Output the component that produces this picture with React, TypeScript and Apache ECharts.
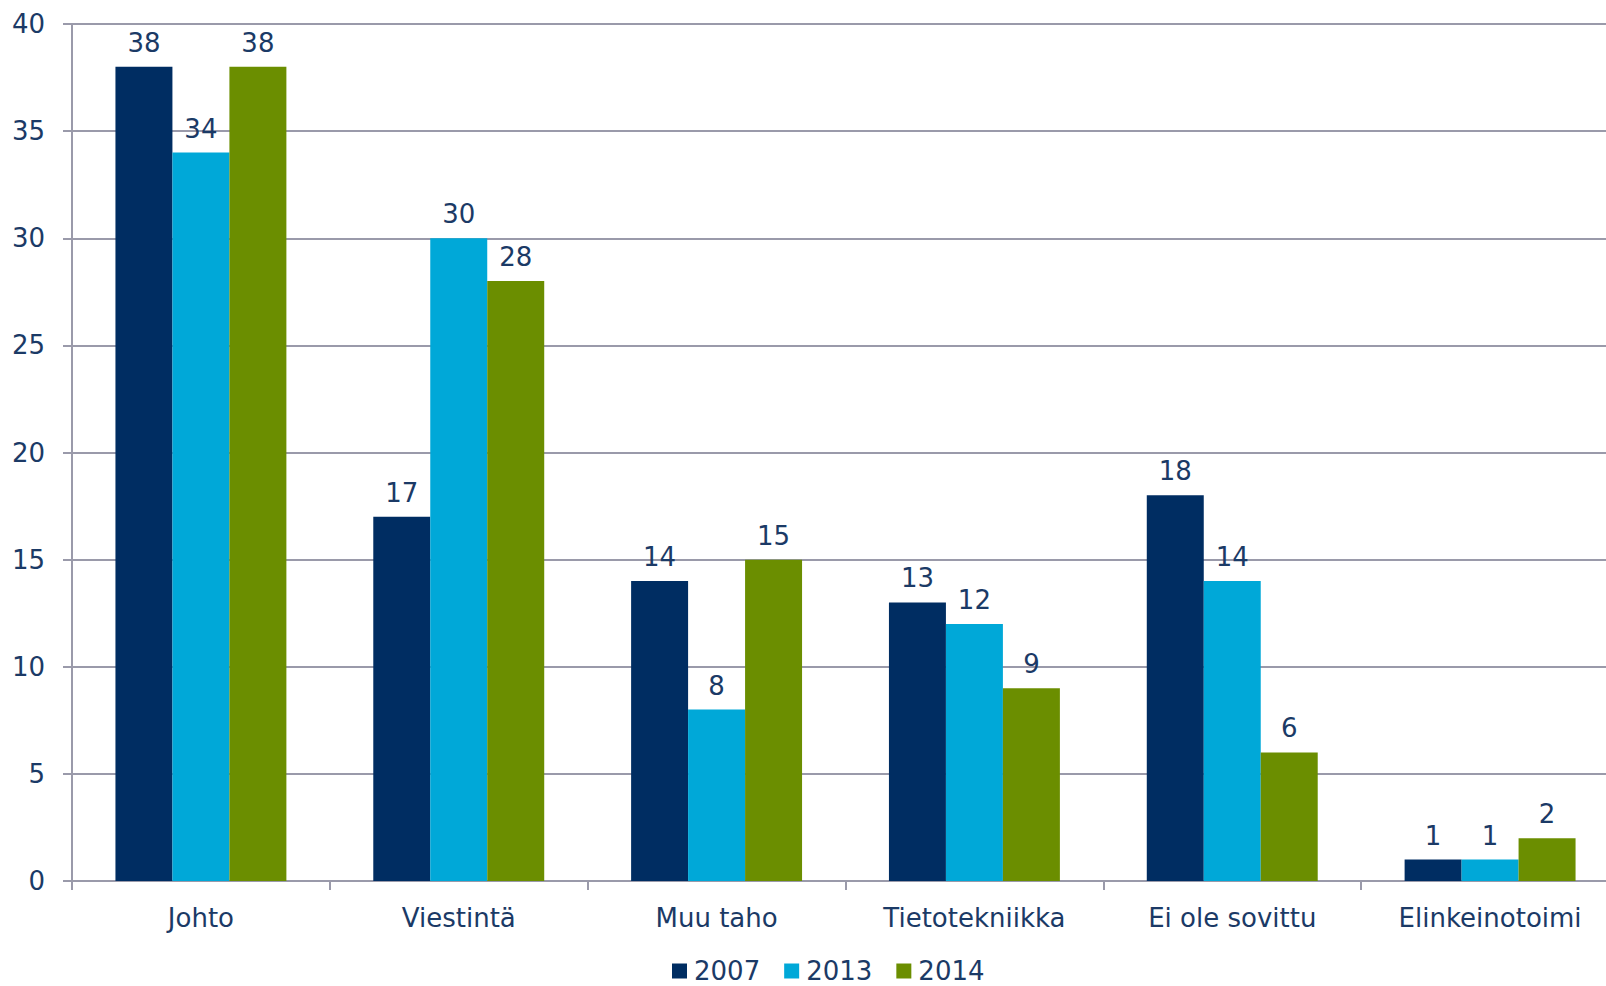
import React, { useEffect, useRef } from "react";
import * as echarts from "echarts";

const categories = ["Johto", "Viestintä", "Muu taho", "Tietotekniikka", "Ei ole sovittu", "Elinkeinotoimi"];
const seriesNames = ["2007", "2013", "2014"];
const values2007 = [38, 17, 14, 13, 18, 1];
const values2013 = [34, 30, 8, 12, 14, 1];
const values2014 = [38, 28, 15, 9, 6, 2];
const colors = ["#002D62", "#00A8D8", "#6B8E00"];
const yTicks = { min: 0, max: 40, interval: 5 };

const textColor = "#1B3A66";
const font = "DejaVu Sans, Verdana, sans-serif";

export default function App() {
  const ref = useRef<HTMLDivElement>(null);
  useEffect(() => {
    document.body.style.margin = "0";
    document.body.style.overflow = "hidden";
    const chart = echarts.init(ref.current!, null, { renderer: "svg" });
    const data = [values2007, values2013, values2014];
    chart.setOption({
      animation: false,
      textStyle: { fontFamily: font },
      grid: { left: 72, top: 24, width: 1547, height: 857, containLabel: false },
      legend: {
        top: 958,
        left: 672,
        padding: 0,
        itemWidth: 15,
        itemHeight: 15,
        itemGap: 24,
        icon: "rect",
        textStyle: { fontSize: 26, lineHeight: 26, color: textColor, fontFamily: font, padding: [0, 0, 0, 2] },
        data: seriesNames,
      },
      xAxis: {
        type: "category",
        data: categories,
        axisLine: { lineStyle: { color: "#9A9AAA", width: 2 } },
        axisTick: { show: true, length: 9, lineStyle: { color: "#9A9AAA", width: 2 } },
        axisLabel: { fontSize: 26, color: textColor, margin: 24, fontFamily: font },
      },
      yAxis: {
        type: "value",
        min: yTicks.min,
        max: yTicks.max,
        interval: yTicks.interval,
        axisLine: { show: true, lineStyle: { color: "#9A9AAA", width: 2 } },
        axisTick: { show: true, length: 9, lineStyle: { color: "#9A9AAA", width: 2 } },
        splitLine: { lineStyle: { color: "#9A9AAA", width: 2 } },
        axisLabel: { fontSize: 26, color: textColor, margin: 27, fontFamily: font },
      },
      series: seriesNames.map((name, i) => ({
        name,
        type: "bar",
        data: data[i],
        barGap: "0%",
        barCategoryGap: "33.7%",
        itemStyle: { color: colors[i] },
        label: {
          show: true,
          position: "top",
          distance: 11,
          fontSize: 26,
          color: textColor,
          fontFamily: font,
        },
      })),
    });
    return () => chart.dispose();
  }, []);
  return (
    <div style={{ width: 1606, height: 986, overflow: "hidden" }}>
      <div ref={ref} style={{ width: 1630, height: 986 }} />
    </div>
  );
}
